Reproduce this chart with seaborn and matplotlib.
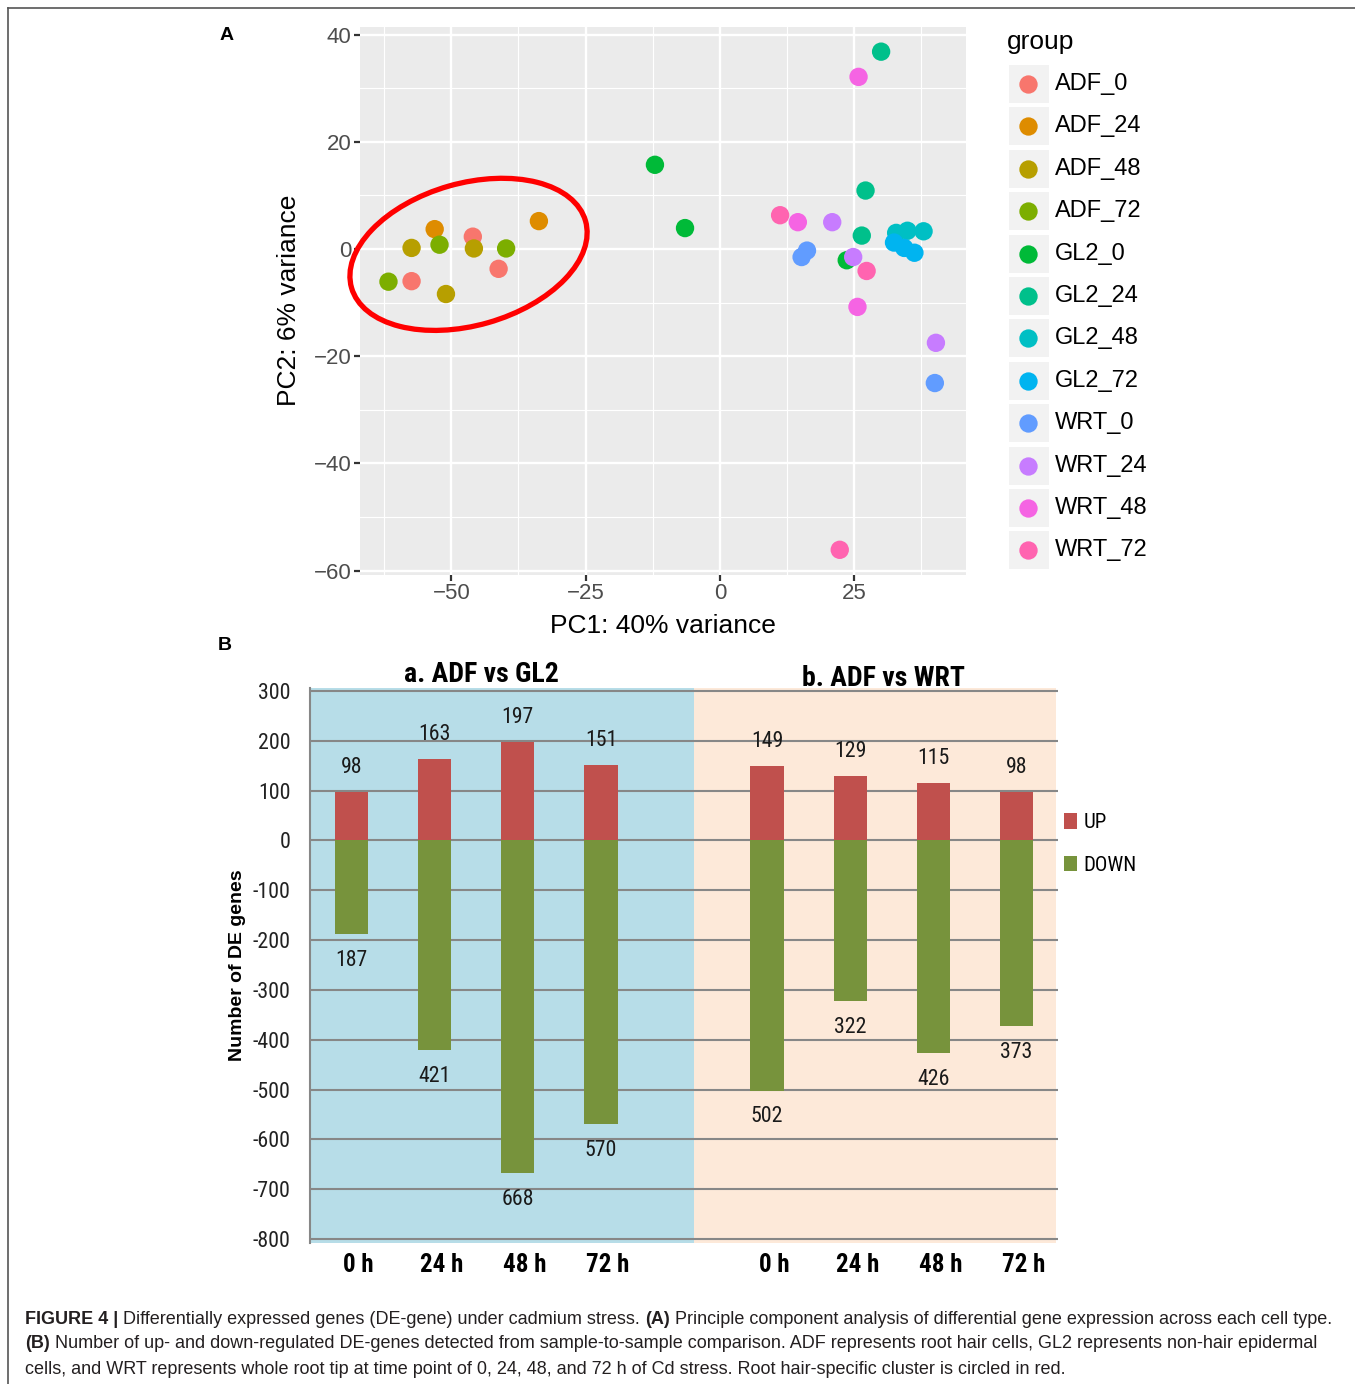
import numpy as np
import pandas as pd
import matplotlib
matplotlib.use('Agg')
import matplotlib.pyplot as plt
import matplotlib.transforms as mtransforms
import seaborn as sns
from matplotlib import font_manager
from matplotlib.patches import Ellipse, Rectangle, Patch
from matplotlib.lines import Line2D

W, H = 1355, 1384
DPI = 100

# ---------------- Panel A data (PCA) ----------------
groups = ['ADF_0', 'ADF_24', 'ADF_48', 'ADF_72', 'GL2_0', 'GL2_24',
          'GL2_48', 'GL2_72', 'WRT_0', 'WRT_24', 'WRT_48', 'WRT_72']
group_colors = ['#F8766D', '#DE8C00', '#B79F00', '#7CAE00', '#00BA38', '#00C08B',
                '#00BFC4', '#00B4F0', '#619CFF', '#C77CFF', '#F564E3', '#FF64B0']
sample_group = ['ADF_0'] * 3 + ['ADF_24'] * 2 + ['ADF_48'] * 3 + ['ADF_72'] * 3 + \
               ['GL2_0'] * 3 + ['GL2_24'] * 3 + ['GL2_48'] * 3 + ['GL2_72'] * 3 + \
               ['WRT_0'] * 3 + ['WRT_24'] * 3 + ['WRT_48'] * 3 + ['WRT_72'] * 3
pc1 = [-46.0, -41.2, -57.4,
       -53.1, -33.7,
       -57.4, -45.8, -51.0,
       -52.2, -39.8, -61.7,
       -12.1, -6.5, 23.6,
       30.0, 27.1, 26.4,
       32.8, 34.9, 37.9,
       32.4, 34.3, 36.2,
       15.2, 16.2, 40.0,
       20.9, 24.8, 40.2,
       25.8, 14.5, 25.6,
       11.2, 27.3, 22.3]
pc2 = [2.3, -3.7, -6.0,
       3.7, 5.2,
       0.2, 0.1, -8.4,
       0.8, 0.1, -6.1,
       15.7, 3.9, -2.1,
       36.8, 10.9, 2.5,
       3.0, 3.4, 3.3,
       1.2, 0.2, -0.7,
       -1.5, -0.3, -25.0,
       5.0, -1.5, -17.5,
       32.1, 5.0, -10.8,
       6.3, -4.1, -56.1]
pc1_label = 'PC1: 40% variance'
pc2_label = 'PC2: 6% variance'

# ---------------- Panel B data (DE genes) ----------------
time_labels = ['0 h', '24 h', '48 h', '72 h']
comparisons = ['a. ADF vs GL2', 'b. ADF vs WRT']
up_gl2 = [98, 163, 197, 151]
down_gl2 = [187, 421, 668, 570]
up_wrt = [149, 129, 115, 98]
down_wrt = [502, 322, 426, 373]
y_ticks_b = list(range(-800, 301, 100))

caption_lines = [
    [('FIGURE 4 |', True), ('Differentially expressed genes (DE-gene) under cadmium stress.', False),
     ('(A)', True), ('Principle component analysis of differential gene expression across each cell type.', False)],
    [('(B)', True), ('Number of up- and down-regulated DE-genes detected from sample-to-sample comparison. ADF represents root hair cells, GL2 represents non-hair epidermal', False)],
    [('cells, and WRT represents whole root tip at time point of 0, 24, 48, and 72 h of Cd stress. Root hair-specific cluster is circled in red.', False)],
]

# ---------------- helpers ----------------
def fx(x):
    return x / W

def fy(y):
    return 1 - y / H

SANS = ['Liberation Sans', 'DejaVu Sans']

# look for a narrow / condensed family for the Excel-style panel
names = {f.name for f in font_manager.fontManager.ttflist}
narrow_choice = None
for cand in ['Liberation Sans Narrow', 'Roboto Condensed', 'Open Sans Condensed',
             'DejaVu Sans Condensed', 'Noto Sans Condensed']:
    if cand in names:
        narrow_choice = cand
        break
if narrow_choice is not None:
    NARROW = [narrow_choice, 'DejaVu Sans']
    NS = 1.0
else:
    NARROW = SANS
    NS = 0.84

plt.rcParams['font.family'] = SANS
plt.rcParams['axes.unicode_minus'] = True

fig = plt.figure(figsize=(W / DPI, H / DPI), dpi=DPI)
fig.patch.set_facecolor('white')

# border
fig.add_artist(Line2D([fx(8), 1.0], [fy(8), fy(8)], transform=fig.transFigure, color='#555555', lw=1.2))
fig.add_artist(Line2D([fx(8), fx(8)], [fy(8), 0.0], transform=fig.transFigure, color='#555555', lw=1.2))

# ================= Panel A =================
axA = fig.add_axes([fx(360), fy(575), (966 - 360) / W, (575 - 27) / H])
dfA = pd.DataFrame({'PC1': pc1, 'PC2': pc2, 'group': sample_group})
palette = dict(zip(groups, group_colors))
sns.scatterplot(data=dfA, x='PC1', y='PC2', hue='group', hue_order=groups, palette=palette,
                s=175, edgecolor='none', linewidth=0, legend=False, ax=axA, zorder=3)
axA.set_xlim(-67.0, 45.8)
axA.set_ylim(-60.8, 41.4)
axA.set_facecolor('#EBEBEB')
axA.set_xticks([-50, -25, 0, 25])
axA.set_yticks([-60, -40, -20, 0, 20, 40])
axA.set_xticks([-62.5, -37.5, -12.5, 12.5, 37.5], minor=True)
axA.set_yticks([-50, -30, -10, 10, 30], minor=True)
axA.grid(which='major', color='white', lw=1.7)
axA.grid(which='minor', color='white', lw=0.8)
axA.set_axisbelow(True)
for s in axA.spines.values():
    s.set_visible(False)
axA.tick_params(which='minor', length=0)
axA.tick_params(which='major', length=4, width=1.6, color='#333333',
                labelcolor='#4D4D4D', labelsize=16, pad=2)
axA.set_xlabel(pc1_label, fontsize=19, color='black', va='center')
axA.set_ylabel(pc2_label, fontsize=19, color='black', va='center')
axA.xaxis.set_label_coords((663 - 360) / 606, (575 - 626) / 548)
axA.yaxis.set_label_coords((289 - 360) / 606, (575 - 300) / 548)

ell = Ellipse((-46.8, -1.0), width=45.3, height=26.5, angle=16, fill=False,
              edgecolor='#FF0000', lw=3.8, zorder=4, clip_on=False)
axA.add_patch(ell)

# legend (ggplot style keys)
fig.text(fx(1007), fy(42), 'group', fontsize=19, ha='left', va='center')
for i, (g, c) in enumerate(zip(groups, group_colors)):
    yc = 84 + 42.4 * i
    fig.add_artist(Rectangle((fx(1009), fy(yc + 19)), 40 / W, 38 / H,
                             transform=fig.transFigure, facecolor='#F2F2F2', edgecolor='none'))
    fig.add_artist(Line2D([fx(1028)], [fy(yc)], transform=fig.transFigure, marker='o',
                          markersize=13.2, markerfacecolor=c, markeredgewidth=0, linestyle='none'))
    fig.text(fx(1055), fy(yc), g, fontsize=17, ha='left', va='center')

fig.text(fx(227), fy(35), 'A', fontsize=14, fontweight='bold', ha='center', va='center')

# ================= Panel B =================
axB = fig.add_axes([fx(310), fy(1243), (1058 - 310) / W, (1243 - 688) / H])
slot_order = [f'GL2 {t}' for t in time_labels] + ['gap'] + [f'WRT {t}' for t in time_labels]
rows = []
for t, u, d in zip(time_labels, up_gl2, down_gl2):
    rows.append((f'GL2 {t}', 'UP', u))
    rows.append((f'GL2 {t}', 'DOWN', -d))
for t, u, d in zip(time_labels, up_wrt, down_wrt):
    rows.append((f'WRT {t}', 'UP', u))
    rows.append((f'WRT {t}', 'DOWN', -d))
dfB = pd.DataFrame(rows, columns=['slot', 'direction', 'count'])
red, green = '#C0504D', '#77933C'
sns.barplot(data=dfB, x='slot', y='count', hue='direction', order=slot_order,
            hue_order=['UP', 'DOWN'], palette={'UP': red, 'DOWN': green},
            dodge=False, width=0.4, saturation=1, errorbar=None, linewidth=0,
            legend=False, ax=axB, zorder=2)
axB.set_xlim(-0.5, 8.5)
axB.set_ylim(-808, 306)
axB.axvspan(-0.5, 4.12, color='#B7DDE8', zorder=0, lw=0)
axB.axvspan(4.12, 8.47, color='#FDE9D9', zorder=0, lw=0)
axB.set_yticks(y_ticks_b)
axB.set_yticklabels([str(v) for v in y_ticks_b])
axB.grid(axis='y', color='#878787', lw=1.5, zorder=1)
axB.grid(axis='x', visible=False)
axB.set_axisbelow(True)
for k, s in axB.spines.items():
    s.set_visible(k == 'left')
axB.spines['left'].set_color('#878787')
axB.spines['left'].set_linewidth(1.5)
axB.set_facecolor('none')
axB.tick_params(axis='y', length=0, pad=14, labelsize=15 * NS * 1.05, labelcolor='#222222')
for lab in axB.get_yticklabels():
    lab.set_family(NARROW)
axB.set_xticks(range(len(slot_order)))
axB.set_xticklabels(time_labels + [''] + time_labels)
axB.tick_params(axis='x', length=0, pad=7, labelsize=18 * NS)
shift = mtransforms.ScaledTranslation(7 / DPI, 0, fig.dpi_scale_trans)
for lab in axB.get_xticklabels():
    lab.set_family(NARROW)
    lab.set_fontweight('bold')
    lab.set_transform(lab.get_transform() + shift)
axB.set_xlabel('')
axB.set_ylabel('Number of DE genes', fontsize=14, fontweight='bold', va='center')
axB.yaxis.set_label_coords((237 - 310) / 748, (1243 - 965) / 555)

# value labels
ups = up_gl2 + up_wrt
downs = down_gl2 + down_wrt
pos_list = [0, 1, 2, 3, 5, 6, 7, 8]
for p, u, d in zip(pos_list, ups, downs):
    axB.annotate(str(u), (p, u), xytext=(0, 17.5), textcoords='offset points',
                 ha='center', va='center', fontsize=15 * NS * 1.05, family=NARROW, color='#1A1A1A')
    axB.annotate(str(d), (p, -d), xytext=(0, -19), textcoords='offset points',
                 ha='center', va='center', fontsize=15 * NS * 1.05, family=NARROW, color='#1A1A1A')

# titles
fig.text(fx(481), fy(675), comparisons[0], fontsize=20 * NS, fontweight='bold', family=NARROW,
         ha='center', va='center')
fig.text(fx(883), fy(678), comparisons[1], fontsize=20 * NS, fontweight='bold', family=NARROW,
         ha='center', va='center')

# legend B
handles = [Patch(facecolor=red, edgecolor='none'), Patch(facecolor=green, edgecolor='none')]
fig.legend(handles, ['UP', 'DOWN'], loc='upper left', bbox_to_anchor=(fx(1060), fy(809)),
           frameon=False, handlelength=0.62, handleheight=0.75, handletextpad=0.3,
           labelspacing=1.15, borderpad=0.2, borderaxespad=0,
           prop={'family': NARROW, 'size': 15 * NS})

fig.text(fx(225), fy(646), 'B', fontsize=14, fontweight='bold', ha='center', va='center')

# ================= Caption =================
renderer = fig.canvas.get_renderer()

def measure(txt, bold, size):
    t = fig.text(0, 0, txt, fontsize=size, fontweight='bold' if bold else 'normal', family=SANS)
    w = t.get_window_extent(renderer).width
    t.remove()
    return w

cap_size = 12.95
space_w = measure('x x', False, cap_size) - measure('xx', False, cap_size)
for li, segs in enumerate(caption_lines):
    y = 1319 + 25 * li
    x = 25
    for si, (txt, bold) in enumerate(segs):
        t = fig.text(fx(x), fy(y), txt, fontsize=cap_size, fontweight='bold' if bold else 'normal',
                     family=SANS, color='#231F20', ha='left', va='center')
        x += t.get_window_extent(renderer).width + space_w

fig.savefig('out.png', dpi=DPI, facecolor='white')
